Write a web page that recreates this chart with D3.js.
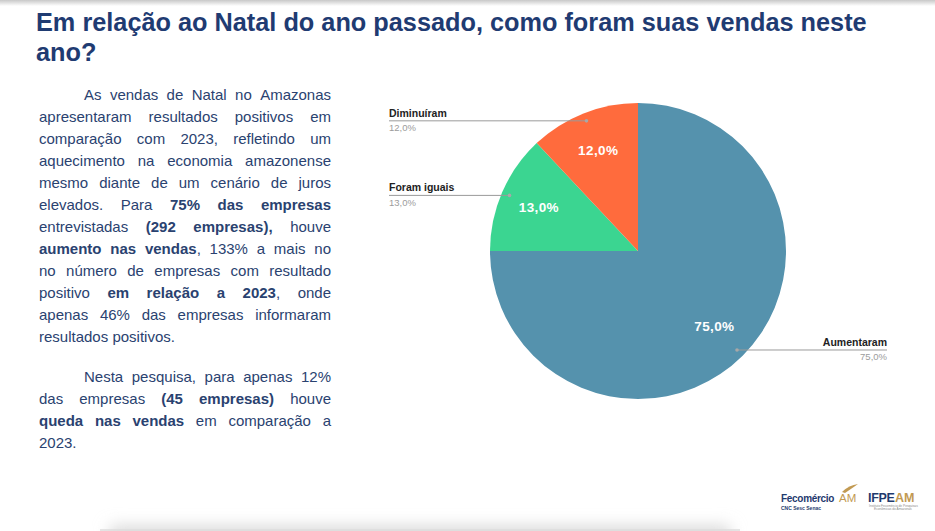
<!DOCTYPE html>
<html>
<head>
<meta charset="utf-8">
<script src="https://cdn.jsdelivr.net/npm/d3@7"></script>
<style>
  html, body { margin: 0; padding: 0; background: #fff; }
  svg { display: block; font-family: "Liberation Sans", Arial, sans-serif; }
</style>
</head>
<body>
<svg id="chart" width="935" height="531"></svg>
<script>
// ---------------- DATA ----------------
const categories = ["Aumentaram", "Foram iguais", "Diminuíram"];
const values = [75.0, 13.0, 12.0];
const colors = ["#5592ad", "#3bd591", "#ff6b3d"];
const titleLines = [
  "Em relação ao Natal do ano passado, como foram suas vendas neste",
  "ano?"
];
// paragraphs: each line is a list of [text, bold]
const paragraph1 = [
  [["As vendas de Natal no Amazonas", false]],
  [["apresentaram resultados positivos em", false]],
  [["comparação com 2023, refletindo um", false]],
  [["aquecimento na economia amazonense", false]],
  [["mesmo diante de um cenário de juros", false]],
  [["elevados. Para ", false], ["75% das empresas", true]],
  [["entrevistadas ", false], ["(292 empresas),", true], [" houve", false]],
  [["aumento nas vendas", true], [", 133% a mais no", false]],
  [["no número de empresas com resultado", false]],
  [["positivo ", false], ["em relação a 2023", true], [", onde", false]],
  [["apenas 46% das empresas informaram", false]],
  [["resultados positivos.", false]]
];
const paragraph2 = [
  [["Nesta pesquisa, para apenas 12%", false]],
  [["das empresas ", false], ["(45 empresas)", true], [" houve", false]],
  [["queda nas vendas", true], [" em comparação a", false]],
  [["2023.", false]]
];
const fmt = v => v.toFixed(1).replace(".", ",") + "%";

// ---------------- SVG ----------------
const svg = d3.select("#chart");
const defs = svg.append("defs");
const tg = defs.append("linearGradient").attr("id", "topShadow")
  .attr("x1", 0).attr("y1", 0).attr("x2", 0).attr("y2", 1);
tg.append("stop").attr("offset", "0%").attr("stop-color", "#c8c8c8");
tg.append("stop").attr("offset", "100%").attr("stop-color", "#ffffff");
svg.append("rect").attr("x", 0).attr("y", 0).attr("width", 935).attr("height", 6)
  .attr("fill", "url(#topShadow)");

const blur = defs.append("filter").attr("id", "blur").attr("x", "-20%").attr("y", "-100%")
  .attr("width", "140%").attr("height", "300%");
blur.append("feGaussianBlur").attr("stdDeviation", 8);
svg.append("rect").attr("x", 110).attr("y", 526).attr("width", 620).attr("height", 20)
  .attr("fill", "#d8d8d8").attr("filter", "url(#blur)");
svg.append("line").attr("x1", 100).attr("x2", 740).attr("y1", 530).attr("y2", 530)
  .attr("stroke", "#dcdcdc").attr("stroke-width", 1.5);

// ---------------- TITLE ----------------
const titleG = svg.append("g");
const tLines = titleG.selectAll("text").data(titleLines).join("text")
  .attr("x", 0).attr("y", (d, i) => i * 30)
  .attr("font-size", 25).attr("font-weight", "bold").attr("fill", "#1f3b72")
  .text(d => d);
const natW = tLines.nodes()[0].getComputedTextLength();
const sx = 831 / natW;
titleG.attr("transform", `translate(36,31) scale(${sx},1)`);

// ---------------- BODY TEXT ----------------
const bodyColor = "#2a4270";
const fontSize = 15;
const left = 39, right = 331, indent = 45;
const measurer = svg.append("text").attr("font-size", fontSize).attr("visibility", "hidden");
function measure(txt, bold) {
  measurer.attr("font-weight", bold ? "bold" : "normal").text(txt);
  return measurer.node().getComputedTextLength();
}
const spaceW = measure("a a", false) - measure("aa", false);

function drawParagraph(lines, y0, lh) {
  lines.forEach((segs, li) => {
    const words = [];
    segs.forEach(([t, b]) => {
      const parts = t.split(" ");
      parts.forEach((p, pi) => {
        if (pi > 0) words.push(null);
        if (p.length) {
          if (words.length && words[words.length - 1] !== null && pi === 0) {
            words[words.length - 1].pieces.push([p, b]);
          } else {
            words.push({ pieces: [[p, b]] });
          }
        }
      });
    });
    const ws = [];
    let cur = null;
    words.forEach(w => {
      if (w === null) { cur = null; return; }
      if (cur === null) { cur = { pieces: [] }; ws.push(cur); }
      cur.pieces.push(...w.pieces);
    });
    ws.forEach(w => { w.width = d3.sum(w.pieces, p => measure(p[0], p[1])); });
    const x0 = left + (li === 0 ? indent : 0);
    const avail = right - x0;
    const total = d3.sum(ws, w => w.width);
    const last = li === lines.length - 1;
    const gap = (last || ws.length < 2) ? spaceW : (avail - total) / (ws.length - 1);
    let x = x0;
    const y = y0 + li * lh;
    ws.forEach(w => {
      let px = x;
      w.pieces.forEach(([t, b]) => {
        svg.append("text").attr("x", px).attr("y", y)
          .attr("font-size", fontSize).attr("font-weight", b ? "bold" : "normal")
          .attr("fill", bodyColor).text(t);
        px += measure(t, b);
      });
      x += w.width + gap;
    });
  });
}
drawParagraph(paragraph1, 100, 22);
drawParagraph(paragraph2, 382, 22);

// ---------------- PIE ----------------
const cx = 638, cy = 251, r = 148;
const pie = d3.pie().sort(null).value(d => d.value);
const data = categories.map((c, i) => ({ name: c, value: values[i], color: colors[i] }));
const arcs = pie(data);
const arc = d3.arc().innerRadius(0).outerRadius(r);
const pg = svg.append("g").attr("transform", `translate(${cx},${cy})`);
pg.selectAll("path").data(arcs).join("path")
  .attr("d", arc).attr("fill", d => d.data.color);

const labelArc = d3.arc().innerRadius(108).outerRadius(108);
pg.selectAll("text.in").data(arcs).join("text").attr("class", "in")
  .attr("transform", d => `translate(${labelArc.centroid(d)})`)
  .attr("text-anchor", "middle").attr("dy", "0.3em")
  .attr("font-size", 13.5).attr("font-weight", "bold").attr("fill", "#fff")
  .attr("letter-spacing", 0.4)
  .text(d => fmt(d.data.value));

// leader lines
const dotArc = d3.arc().innerRadius(140).outerRadius(140);
const leaderTargets = { "Aumentaram": { x: 887, anchor: "end" },
                        "Foram iguais": { x: 389, anchor: "start" },
                        "Diminuíram": { x: 389, anchor: "start" } };
arcs.forEach(d => {
  const [dx, dy] = dotArc.centroid(d);
  const px = cx + dx, py = cy + dy;
  const t = leaderTargets[d.data.name];
  svg.append("line").attr("x1", px).attr("y1", py).attr("x2", t.x).attr("y2", py)
    .attr("stroke", "#9a9a9a").attr("stroke-width", 1);
  svg.append("circle").attr("cx", px).attr("cy", py).attr("r", 1.8).attr("fill", "#a8a8a8");
  svg.append("text").attr("x", t.x).attr("y", py - 4).attr("text-anchor", t.anchor)
    .attr("font-size", 10.5).attr("font-weight", "bold").attr("fill", "#222")
    .text(d.data.name);
  svg.append("text").attr("x", t.x).attr("y", py + 10.5).attr("text-anchor", t.anchor)
    .attr("font-size", 9.5).attr("fill", "#9c9c9c")
    .text(fmt(d.data.value));
});

// ---------------- LOGOS ----------------
const logo = svg.append("g");
logo.append("text").attr("x", 781).attr("y", 502).attr("font-size", 10)
  .attr("font-weight", "bold").attr("fill", "#1f3a6e").attr("letter-spacing", -0.3)
  .text("Fecomércio");
logo.append("text").attr("x", 839).attr("y", 502).attr("font-size", 11.5)
  .attr("fill", "#c29a52").text("AM");
logo.append("path").attr("d", "M842,492 Q849,485 858,484 Q851,489 845,493 Z").attr("fill", "#c29a52");
logo.append("text").attr("x", 781).attr("y", 510).attr("font-size", 5)
  .attr("font-weight", "bold").attr("fill", "#1f3a6e").text("CNC Sesc Senac");
logo.append("text").attr("x", 868).attr("y", 502).attr("font-size", 12.5)
  .attr("font-weight", "bold").attr("fill", "#1f3a6e").attr("letter-spacing", -0.3).text("IFPE");
logo.append("text").attr("x", 895).attr("y", 502).attr("font-size", 12.5)
  .attr("font-weight", "bold").attr("fill", "#c29a52").text("AM");
logo.append("text").attr("x", 869).attr("y", 506.5).attr("font-size", 3.2)
  .attr("fill", "#8a8a8a").text("Instituto Fecomércio de Pesquisas");
logo.append("text").attr("x", 874).attr("y", 510).attr("font-size", 3.2)
  .attr("fill", "#8a8a8a").text("Econômicas do Amazonas");
</script>
</body>
</html>
